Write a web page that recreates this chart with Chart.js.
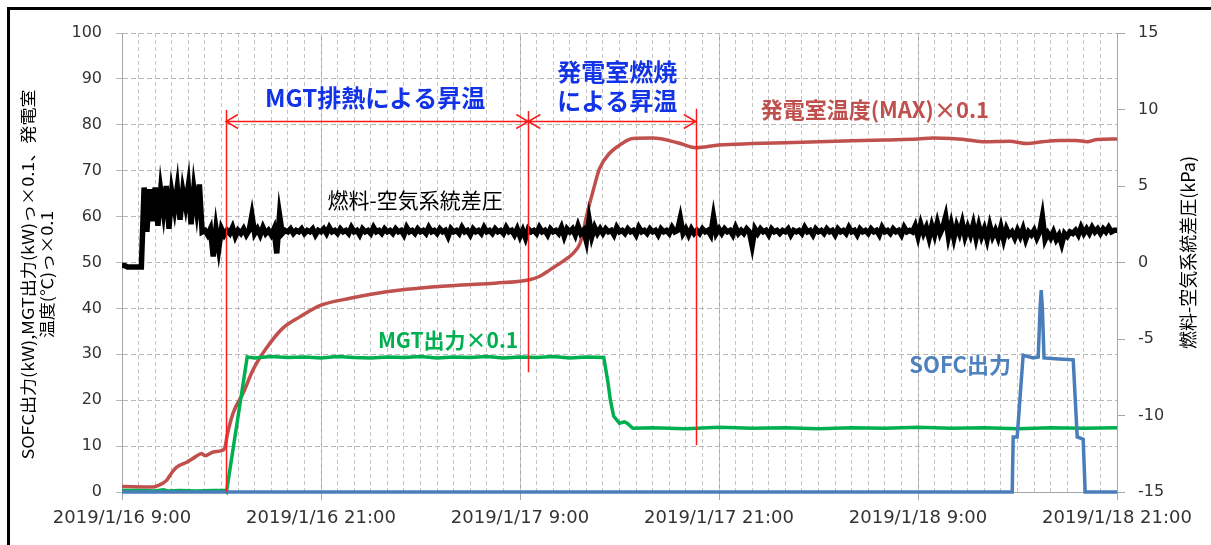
<!DOCTYPE html>
<html>
<head>
<meta charset="utf-8">
<script src="https://cdn.jsdelivr.net/npm/chart.js@4.4.1/dist/chart.umd.min.js"></script>
<style>
html, body { margin: 0; padding: 0; background: #fff; }
#wrap { position: relative; width: 1211px; height: 545px; overflow: hidden; }
#frame { position: absolute; left: 7px; top: 7px; width: 1300px; height: 700px;
  border-left: 3px solid #000; border-top: 3px solid #000; pointer-events: none; }
canvas { position: absolute; left: 0; top: 0; }
</style>
</head>
<body>
<div id="wrap"><canvas id="chart" width="1211" height="545"></canvas><div id="frame"></div></div>
<script>
// hours counted from 2019/1/16 9:00
let xTickLabels = ["2019/1/16 9:00", "2019/1/16 21:00", "2019/1/17 9:00", "2019/1/17 21:00", "2019/1/18 9:00", "2019/1/18 21:00"];

// 発電室温度(MAX)×0.1
let tempHours = [0, 1.9, 2.3, 2.7, 3.0, 3.3, 3.9, 4.4, 4.8, 5.0, 5.5, 6.0, 6.2, 6.35, 6.7, 7.3, 7.9, 8.7, 9.7, 10.7, 12, 13.75, 15.2, 16.8, 18.5, 20.5, 22.5, 24.5,
  25.2, 25.8, 26.6, 27.2, 27.6, 27.8, 28.0, 28.4, 28.8, 29.4, 30.1, 30.8, 32.0, 33.5, 34.6, 36.0, 38, 40, 42, 44, 46, 48, 48.9, 50, 51, 52, 53.5, 54.6, 55.5, 56.5, 57.5, 58.2, 58.8, 60];
let tempValues = [1.2, 1.1, 1.6, 2.6, 4.2, 5.4, 6.5, 7.6, 8.4, 7.9, 8.7, 9.0, 9.6, 12.5, 17.2, 21.5, 26.6, 31.3, 35.7, 38.1, 40.7, 42.2, 43.2, 44.0, 44.6, 45.1, 45.5, 46.2,
  47.0, 48.4, 50.3, 52.0, 54.0, 56.5, 60.0, 65.5, 70.5, 73.8, 75.8, 77.0, 77.1, 76.1, 75.0, 75.6, 75.9, 76.1, 76.3, 76.5, 76.7, 76.9, 77.1, 77.0, 76.7, 76.3, 76.4, 75.9, 76.3, 76.6, 76.6, 76.3, 76.8, 76.9];

// MGT出力×0.1
let mgtHours = [0, 1, 2, 2.5, 2.8, 3.5, 4.5, 5.5, 6.2, 6.3, 7.55, 8, 9, 10, 11, 12, 13, 14, 15, 16, 17, 18, 19, 20, 21, 22, 23, 24, 25, 26, 27, 28, 29.05,
  29.3, 29.45, 29.65, 30, 30.3, 30.5, 30.8, 32, 34, 36, 38, 40, 42, 44, 46, 48, 50, 52, 54, 56, 58, 60];
let mgtValues = [0.3, 0.3, 0.2, 0.5, 0.2, 0.3, 0.2, 0.3, 0.3, 0, 29.4, 29.2, 29.5, 29.3, 29.4, 29.2, 29.5, 29.3, 29.2, 29.4, 29.3, 29.5, 29.2, 29.4, 29.3, 29.5, 29.2, 29.4, 29.3, 29.5, 29.2, 29.4, 29.3,
  24.0, 20.0, 16.5, 15.0, 15.3, 14.9, 13.9, 14.0, 13.8, 14.1, 13.9, 14.0, 13.8, 14.0, 13.9, 14.1, 13.9, 14.0, 13.8, 14.0, 13.9, 14.0];

// SOFC出力
let sofcHours = [0, 53.68, 53.74, 53.98, 54.34, 54.95, 55.25, 55.36, 55.43, 55.5, 55.6, 56.5, 57.36, 57.6, 57.96, 58.08, 60];
let sofcValues = [0, 0, 12, 12, 29.8, 29.2, 29.4, 40, 44, 40, 29.2, 29.0, 28.8, 12, 11.5, 0, 0];

// 燃料-空気系統差圧 (kPa), one reading every 10 minutes
let pressStep = 1 / 6;
let pressValues = [
  -0.2, -0.2, -0.3, -0.3, -0.3, -0.3,
  -0.3, -0.3, 4.9, 2.0, 4.8, 2.7,
  4.9, 2.4, 4.7, 3.3, 5.0, 2.2,
  4.6, 3.5, 4.9, 2.8, 4.7, 3.7,
  5.0, 2.5, 4.8, 3.4, 5.1, 2.0,
  2.1, 1.8, 2.2, 0.4, 2.2, 0.9,
  2.2, 1.8, 2.1, 1.9, 2.3, 1.7,
  2.1, 1.9, 2.2, 1.8, 2.1, 3.1,
  1.9, 2.2, 1.8, 2.3, 1.9, 2.1,
  1.8, 2.2, 0.6, 3.1, 1.9, 2.1,
  2.0, 2.2, 1.9, 2.1, 2.0, 2.2,
  1.9, 2.1, 2.0, 2.2, 1.8, 2.1,
  2.0, 2.2, 1.9, 2.3, 2.0, 2.1,
  1.9, 2.2, 2.0, 2.1, 1.9, 2.3,
  2.0, 2.1, 1.8, 2.2, 2.0, 2.1,
  1.9, 2.3, 2.0, 2.1, 1.9, 2.2,
  2.0, 2.1, 1.9, 2.2, 2.0, 2.1,
  1.8, 2.3, 2.0, 2.1, 1.9, 2.2,
  2.0, 2.1, 1.9, 2.3, 2.0, 2.1,
  1.9, 2.2, 2.0, 2.1, 1.7, 2.2,
  2.0, 2.1, 1.9, 2.3, 2.0, 2.1,
  1.8, 2.2, 2.0, 2.1, 1.9, 2.3,
  2.0, 2.1, 1.9, 2.2, 2.0, 2.1,
  1.9, 2.3, 2.0, 2.1, 1.8, 2.2,
  1.7, 2.1, 1.6, 2.2, 2.0, 2.1,
  1.9, 2.3, 2.0, 2.1, 1.8, 2.2,
  2.0, 2.1, 1.9, 2.3, 1.7, 2.2,
  2.0, 2.2, 1.8, 2.4, 1.9, 2.1,
  1.4, 2.8, 1.7, 2.3, 1.9, 2.2,
  1.9, 2.2, 2.0, 2.1, 1.8, 2.3,
  2.0, 2.1, 1.9, 2.2, 2.0, 2.1,
  1.8, 2.3, 2.0, 2.1, 1.9, 2.2,
  2.0, 2.1, 1.8, 2.2, 2.0, 2.1,
  1.9, 2.3, 2.0, 2.1, 2.9, 1.9,
  2.2, 1.8, 2.2, 1.9, 2.1, 1.9,
  2.2, 2.0, 2.1, 1.8, 3.0, 1.9,
  2.2, 1.9, 2.2, 2.0, 2.1, 1.8,
  2.3, 1.9, 2.1, 1.9, 2.2, 2.0,
  1.1, 2.2, 1.9, 2.2, 2.0, 2.1,
  1.8, 2.2, 2.0, 2.1, 1.9, 2.1,
  2.0, 2.2, 1.8, 2.1, 2.0, 2.1,
  1.9, 2.3, 2.0, 2.1, 1.8, 2.2,
  2.0, 2.1, 1.9, 2.2, 2.0, 2.1,
  1.8, 2.2, 2.0, 2.1, 1.9, 2.3,
  2.0, 2.1, 1.8, 2.2, 2.0, 2.1,
  1.9, 2.2, 2.0, 2.1, 1.8, 2.3,
  2.0, 2.1, 1.9, 2.2, 2.0, 2.1,
  1.8, 2.3, 2.0, 2.1, 2.0, 2.4,
  1.7, 2.5, 1.9, 2.3, 1.6, 2.4,
  1.8, 2.6, 1.9, 2.3, 3.0, 1.7,
  2.5, 1.6, 2.4, 1.9, 2.6, 1.7,
  2.3, 1.8, 2.5, 1.6, 2.4, 1.7,
  2.2, 1.5, 2.4, 1.7, 2.1, 1.6,
  2.3, 1.5, 2.2, 1.8, 2.0, 1.6,
  2.1, 1.7, 2.2, 1.5, 2.0, 1.8,
  2.1, 1.6, 2.0, 3.0, 1.5, 1.9,
  1.6, 2.0, 1.5, 1.8, 1.2, 1.9,
  1.7, 2.0, 1.9, 2.1, 1.8, 2.3,
  1.9, 2.2, 1.9, 2.3, 2.0, 2.2,
  1.9, 2.2, 2.0, 2.3, 2.0, 2.1,
  2.1
];

// red guide lines (hours, value range) and double arrows
let markerLines = [
  { h: 6.27, from: 0, to: 83.2 },
  { h: 24.5, from: 26.1, to: 83.0 },
  { h: 34.6, from: 10.2, to: 83.5 }
];
let arrowSpans = [[6.27, 24.5], [24.5, 34.6]];
let arrowLevel = 80.8;

let notes = [
  { text: "MGT排熱による昇温", h: 15.26, v: 85.8, color: "#1234e6", size: 24, bold: true },
  { text: "発電室燃焼", h: 29.86, v: 91.5, color: "#1234e6", size: 24, bold: true },
  { text: "による昇温", h: 29.86, v: 85.2, color: "#1234e6", size: 24, bold: true },
  { text: "発電室温度(MAX)×0.1", h: 45.4, v: 83.2, color: "#c0504d", size: 22, bold: true },
  { text: "燃料-空気系統差圧", h: 17.67, v: 63.6, color: "#000", size: 21, bold: false },
  { text: "MGT出力×0.1", h: 19.66, v: 33.1, color: "#00b050", size: 21, bold: true },
  { text: "SOFC出力", h: 50.54, v: 27.7, color: "#4f81bd", size: 22, bold: true }
];

const tickFont = "'DejaVu Sans', 'Noto Sans CJK JP', sans-serif";
const jpFont = "'Noto Sans CJK JP', 'DejaVu Sans', sans-serif";

function toPoints(hours, values) {
  return hours.map((h, i) => ({ x: h, y: values[i] }));
}
let pressPoints = pressValues.map((v, i) => ({ x: i * pressStep, y: v }));

const extras = {
  id: "extras",
  afterDatasetsDraw(chart) {
    const { ctx, scales: { x, y } } = chart;
    ctx.save();
    ctx.strokeStyle = "#ff1a1a";
    ctx.lineWidth = 1.5;
    markerLines.forEach(m => {
      let px = Math.round(x.getPixelForValue(m.h)) + 0.5;
      ctx.beginPath();
      ctx.moveTo(px, y.getPixelForValue(m.from));
      ctx.lineTo(px, y.getPixelForValue(m.to));
      ctx.stroke();
    });
    let ay = Math.round(y.getPixelForValue(arrowLevel)) + 0.5;
    arrowSpans.forEach(s => {
      let x1 = x.getPixelForValue(s[0]), x2 = x.getPixelForValue(s[1]);
      ctx.beginPath();
      ctx.moveTo(x1, ay); ctx.lineTo(x2, ay);
      ctx.moveTo(x1 + 12, ay - 7); ctx.lineTo(x1, ay); ctx.lineTo(x1 + 12, ay + 7);
      ctx.moveTo(x2 - 12, ay - 7); ctx.lineTo(x2, ay); ctx.lineTo(x2 - 12, ay + 7);
      ctx.stroke();
    });
    ctx.textAlign = "center";
    ctx.textBaseline = "middle";
    notes.forEach(n => {
      ctx.font = (n.bold ? "bold " : "") + n.size + "px " + jpFont;
      ctx.fillStyle = n.color;
      ctx.fillText(n.text, x.getPixelForValue(n.h), y.getPixelForValue(n.v));
    });
    ctx.restore();
  },
  afterDraw(chart) {
    const { ctx, chartArea } = chart;
    let cy = (chartArea.top + chartArea.bottom) / 2;
    // left title: two rotated lines, stretched a little along the text like the original
    ctx.save();
    ctx.fillStyle = "#000";
    ctx.textAlign = "center";
    ctx.textBaseline = "middle";
    ctx.font = "16px " + jpFont;
    ctx.translate(28, cy + 12);
    ctx.rotate(-Math.PI / 2);
    ctx.scale(1.13, 1);
    ctx.fillText("SOFC出力(kW),MGT出力(kW)っ×0.1、発電室", 0, 0);
    ctx.fillText("温度(℃)っ×0.1", 0, 18.5);
    ctx.restore();
    ctx.save();
    ctx.fillStyle = "#000";
    ctx.textAlign = "center";
    ctx.textBaseline = "middle";
    ctx.font = "18px " + jpFont;
    ctx.translate(1188, cy - 10);
    ctx.rotate(-Math.PI / 2);
    ctx.fillText("燃料-空気系統差圧(kPa)", 0, 0);
    ctx.restore();
  }
};

new Chart(document.getElementById("chart"), {
  type: "line",
  data: {
    datasets: [
      { label: "燃料-空気系統差圧", data: pressPoints, yAxisID: "y2", borderColor: "#000", borderWidth: 5.5, pointRadius: 0, tension: 0, clip: 6 },
      { label: "SOFC出力", data: toPoints(sofcHours, sofcValues), yAxisID: "y", borderColor: "#4a7ebb", borderWidth: 3.5, pointRadius: 0, tension: 0, clip: 6 },
      { label: "MGT出力×0.1", data: toPoints(mgtHours, mgtValues), yAxisID: "y", borderColor: "#00b050", borderWidth: 3.5, pointRadius: 0, tension: 0, clip: 6 },
      { label: "発電室温度(MAX)×0.1", data: toPoints(tempHours, tempValues), yAxisID: "y", borderColor: "#c0504d", borderWidth: 3.5, pointRadius: 0, cubicInterpolationMode: "monotone", clip: 6 }
    ]
  },
  options: {
    responsive: false,
    animation: false,
    devicePixelRatio: 1,
    layout: { padding: { top: 33, left: 0, right: 0, bottom: 0 } },
    plugins: { legend: { display: false }, tooltip: { enabled: false } },
    scales: {
      x: {
        type: "linear", min: 0, max: 60, position: "bottom",
        ticks: { stepSize: 12, autoSkip: false, maxRotation: 0, padding: 8, color: "#333",
          font: { family: tickFont, size: 18 }, callback: v => xTickLabels[v / 12] || "" },
        grid: { color: "#a6a6a6", tickLength: 8, tickColor: "#a6a6a6" },
        border: { color: "#a6a6a6" },
        afterFit: s => { s.height = 53; }
      },
      xMinor: {
        type: "linear", min: 0, max: 60, position: "bottom",
        ticks: { display: false, stepSize: 1, autoSkip: false },
        grid: { color: "#c4c4c4", drawTicks: false },
        border: { display: false, dash: [4, 3] },
        afterFit: s => { s.height = 0; }
      },
      y: {
        min: 0, max: 100, position: "left",
        ticks: { stepSize: 10, padding: 14, color: "#333", font: { family: tickFont, size: 16 } },
        grid: { color: "#b8b8b8", tickLength: 6, tickColor: "#b8b8b8" },
        border: { color: "#a6a6a6", dash: [5, 3] },
        afterFit: s => { s.width = 122; }
      },
      y2: {
        min: -15, max: 15, position: "right",
        ticks: { stepSize: 5, padding: 13, color: "#333", font: { family: tickFont, size: 16 } },
        grid: { drawOnChartArea: false, tickLength: 8, color: "#a6a6a6" },
        border: { color: "#a6a6a6" },
        afterFit: s => { s.width = 94; }
      }
    }
  },
  plugins: [extras]
});
</script>
</body>
</html>
